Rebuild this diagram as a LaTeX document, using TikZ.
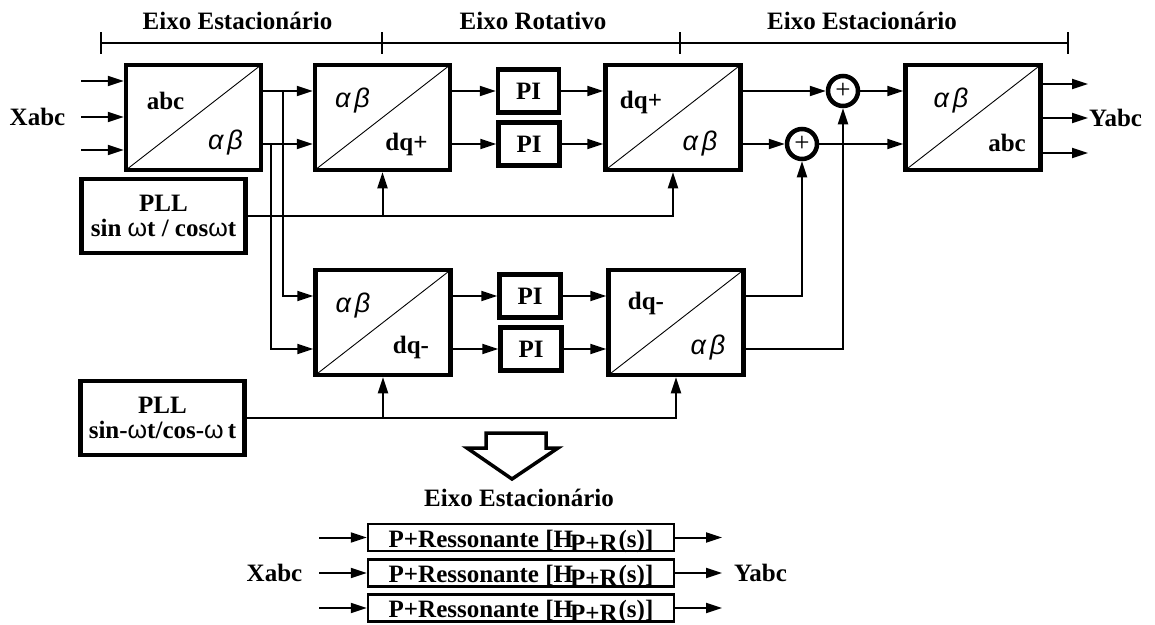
\documentclass[tikz,border=0pt]{standalone}
\usepackage{fontspec}
\setmainfont{Liberation Serif}
\newfontfamily\grkfont{Liberation Sans}
\usetikzlibrary{arrows.meta,calc}
\newcommand{\albe}{{\grkfont\fontsize{27}{27}\selectfont\itshape\mdseries α\hspace{4pt}β}}
\newcommand{\omg}{{\grkfont\mdseries ω}}
\begin{document}
\begin{tikzpicture}[x=1pt,y=-1pt,
  font=\fontsize{25}{25}\selectfont\bfseries,
  blk/.style={draw, line width=4.5pt, minimum width=135pt, minimum height=105pt, inner sep=0pt,
    path picture={\draw[line width=0.9pt] (path picture bounding box.south west) -- (path picture bounding box.north east);}},
  pibox/.style={draw, line width=4.5pt, minimum width=61pt, minimum height=43pt, inner sep=0pt},
  pll/.style={draw, line width=4.5pt, minimum width=164pt, minimum height=74pt, inner sep=0pt, align=center},
  sumc/.style={circle, draw, line width=4.5pt, minimum size=30pt, inner sep=0pt, font=\fontsize{27}{27}\selectfont\mdseries},
  prbox/.style={draw, line width=2.5pt, minimum width=306pt, minimum height=27pt, inner sep=0pt, text height=19pt, text depth=0pt},
  wire/.style={line width=2pt},
  arr/.style={wire, -{Triangle[length=16pt,width=10pt]}},
  lbl/.style={inner sep=0pt}
]
\useasboundingbox (0,0) rectangle (1155,624);

% ---- top bracket ----
\draw[wire] (101,43) -- (1068,43);
\foreach \tx in {101,382,680,1068} \draw[wire] (\tx,32) -- (\tx,54);
\node[lbl, anchor=base] (t1) at (237.5,29) {Eixo Estacionário};
\node[lbl, anchor=base] (t2) at (533,29) {Eixo Rotativo};
\node[lbl, anchor=base] (t3) at (862,29) {Eixo Estacionário};

% ---- blocks ----
\node[blk] (b1) at (193.5,117.5) {};
\node[lbl] (b1t) at ($(b1)+(-28,-17)$) {abc};
\node[lbl] (b1b) at ($(b1)+(32,25)$) {\albe};

\node[blk] (b2) at (382.5,117.5) {};
\node[lbl] (b2t) at ($(b2)+(-30,-17)$) {\albe};
\node[lbl] (b2b) at ($(b2)+(24,27)$) {dq+};

\node[blk] (b3) at (673,117.5) {};
\node[lbl] (b3t) at ($(b3)+(-32,-15)$) {dq+};
\node[lbl] (b3b) at ($(b3)+(27,26)$) {\albe};

\node[blk] (b4) at (973,117.5) {};
\node[lbl] (b4t) at ($(b4)+(-22,-17)$) {\albe};
\node[lbl] (b4b) at ($(b4)+(34,25)$) {abc};

\node[blk] (lb2) at (383,322.5) {};
\node[lbl] (lb2t) at ($(lb2)+(-30,-17)$) {\albe};
\node[lbl] (lb2b) at ($(lb2)+(28,25)$) {dq-};

\node[blk] (lb3) at (676,322.5) {};
\node[lbl] (lb3t) at ($(lb3)+(-30,-19)$) {dq-};
\node[lbl] (lb3b) at ($(lb3)+(32,25)$) {\albe};

\node[pibox] (pi1) at (528.5,91) {PI};
\node[pibox] (pi2) at (529,144) {PI};
\node[pibox] (pi3) at (530,296) {PI};
\node[pibox] (pi4) at (531,349) {PI};

\node[sumc] (s1) at (843,91) {+};
\node[sumc] (s2) at (802,144) {+};

\node[pll] (pll1) at (163.5,216) {PLL\\sin \omg t / cos\omg t};
\node[pll] (pll2) at (162.5,418) {PLL\\sin-\omg t/cos-\omg\,t};

% ---- inputs / outputs ----
\node[lbl] (xabc) at (37.5,117) {Xabc};
\coordinate (x1) at (81,81);
\coordinate (x2) at (81,117);
\coordinate (x3) at (81,150);
\draw[arr] (x1) -- (x1 -| b1.west);
\draw[arr] (x2) -- (x2 -| b1.west);
\draw[arr] (x3) -- (x3 -| b1.west);

\coordinate (y1) at (1088,84);
\coordinate (y2) at (1088,118);
\coordinate (y3) at (1088,153);
\draw[arr] (b4.east |- y1) -- (y1);
\draw[arr] (b4.east |- y2) -- (y2);
\draw[arr] (b4.east |- y3) -- (y3);
\node[lbl, anchor=west] (yabc) at (1089,118) {Yabc};

% ---- upper chain ----
\draw[arr] ([yshift=26.5pt]b1.east) -- ([yshift=26.5pt]b2.west);
\draw[arr] ([yshift=-26.5pt]b1.east) -- ([yshift=-26.5pt]b2.west);
\draw[arr] ([yshift=26.5pt]b2.east) -- (pi1.west);
\draw[arr] ([yshift=-26.5pt]b2.east) -- (pi2.west);
\draw[arr] (pi1.east) -- ([yshift=26.5pt]b3.west);
\draw[arr] (pi2.east) -- ([yshift=-26.5pt]b3.west);
\draw[arr] ([yshift=26.5pt]b3.east) -- (s1.west);
\draw[arr] ([yshift=-26.5pt]b3.east) -- (s2.west);
\draw[arr] (s1.east) -- ([yshift=26.5pt]b4.west);
\draw[arr] (s2.east) -- ([yshift=-26.5pt]b4.west);

% ---- branches to lower chain ----
\coordinate (j1) at (283,91);
\coordinate (j2) at (271,144);
\draw[arr] (j1) |- ([yshift=26.5pt]lb2.west);
\draw[arr] (j2) |- ([yshift=-26.5pt]lb2.west);

% ---- lower chain ----
\draw[arr] ([yshift=26.5pt]lb2.east) -- (pi3.west);
\draw[arr] ([yshift=-26.5pt]lb2.east) -- (pi4.west);
\draw[arr] (pi3.east) -- ([yshift=26.5pt]lb3.west);
\draw[arr] (pi4.east) -- ([yshift=-26.5pt]lb3.west);
\draw[arr] ([yshift=26.5pt]lb3.east) -| (s2.south);
\draw[arr] ([yshift=-26.5pt]lb3.east) -| (s1.south);

% ---- PLL feeds ----
\draw[arr] (pll1.east) -| (b2.south);
\draw[arr] (pll1.east) -| (b3.south);
\draw[arr] (pll2.east) -| (lb2.south);
\draw[arr] (pll2.east) -| (lb3.south);

% ---- big down arrow ----
\draw[line width=3.5pt, line join=miter]
  (486,433) -- (546,433) -- (546,448) -- (558,448) -- (512,479) -- (467,448) -- (486,448) -- cycle;

% ---- equivalent stationary frame ----
\node[lbl, anchor=base] (ee) at (519,506) {Eixo Estacionário};
\newcommand{\prtext}{P+Ressonante [H\kern-3pt\raisebox{-4pt}{P+R}\kern1pt(s)]}
\node[prbox] (pr1) at (521,537.5) {\prtext};
\node[prbox] (pr2) at (521,573) {\prtext};
\node[prbox] (pr3) at (521,608) {\prtext};
\coordinate (xi1) at (319,537.5);
\coordinate (xi2) at (319,573);
\coordinate (xi3) at (319,608);
\coordinate (yo1) at (722,537.5);
\coordinate (yo2) at (722,573);
\coordinate (yo3) at (722,608);
\draw[arr] (xi1) -- (pr1.west);
\draw[arr] (xi2) -- (pr2.west);
\draw[arr] (xi3) -- (pr3.west);
\draw[arr] (pr1.east) -- (yo1);
\draw[arr] (pr2.east) -- (yo2);
\draw[arr] (pr3.east) -- (yo3);
\node[lbl] (xabc2) at (274.5,573) {Xabc};
\node[lbl] (yabc2) at (760.5,573) {Yabc};
\end{tikzpicture}
\end{document}
